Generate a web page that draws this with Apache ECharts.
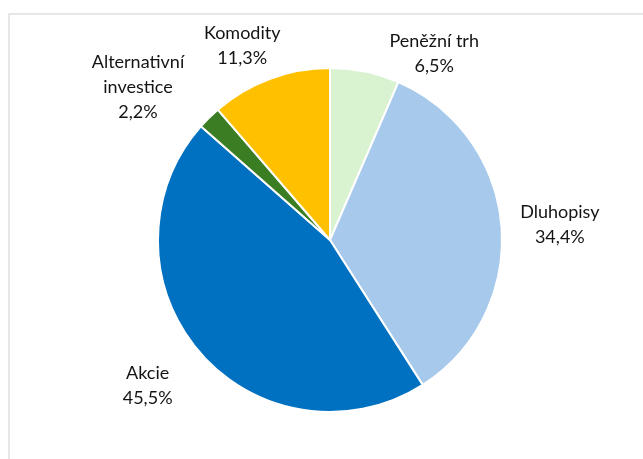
<!DOCTYPE html>
<html lang="cs">
<head>
    <meta charset="UTF-8">
    <title>Alokace portfolia</title>
    <style>
        html, body { margin: 0; padding: 0; background: #fff; }
        #main { width: 643px; height: 459px; }
    </style>
    <script src="https://cdn.jsdelivr.net/npm/echarts@6/dist/echarts.min.js"></script>
</head>
<body>
<div id="main"></div>
<script type="text/javascript">
    // data
    var categories = ['Peněžní trh', 'Dluhopisy', 'Akcie', 'Alternativní\ninvestice', 'Komodity'];
    var values = [6.5, 34.4, 45.5, 2.2, 11.3];
    var colors = ['#d9f2d0', '#a6c9ec', '#0070c0', '#3b7d23', '#ffc000'];

    // label placement (Excel "best fit" moves some labels off the radial line)
    var labelNudge = [[60, 27], [5, 3], [-16, 3], [-21, 20], [-11, 13]];

    var CX = 330, CY = 240, R = 172, GAP = 12;
    var total = values.reduce(function (a, b) { return a + b; }, 0);
    var cum = [];
    values.reduce(function (s, v, i) { cum[i] = s; return s + v; }, 0);

    var myChart = echarts.init(document.getElementById('main'));
    var option = {
        animation: false,
        graphic: [{
            type: 'rect',
            shape: { x: 9, y: 14, width: 700, height: 500 },
            style: { fill: 'none', stroke: '#e0e0e0', lineWidth: 1.5 },
            silent: true
        }],
        series: [{
            type: 'pie',
            center: [CX, CY],
            radius: R,
            startAngle: 90,
            clockwise: true,
            itemStyle: { borderColor: '#fff', borderWidth: 2 },
            label: {
                show: true,
                position: 'outside',
                fontFamily: 'Lato',
                fontSize: 18,
                lineHeight: 25,
                color: '#141414',
                formatter: function (p) {
                    return p.name + '\n' + p.value.toFixed(1).replace('.', ',') + '%';
                }
            },
            labelLine: { show: false },
            labelLayout: function (p) {
                var i = p.dataIndex;
                var mid = (cum[i] + values[i] / 2) / total * 2 * Math.PI;
                var dx = Math.sin(mid), dy = -Math.cos(mid);
                var w = p.labelRect.width, h = p.labelRect.height;
                var d = R + GAP + Math.abs(dx) * w / 2 + Math.abs(dy) * h / 2;
                return {
                    x: CX + dx * d + labelNudge[i][0],
                    y: CY + dy * d + labelNudge[i][1],
                    align: 'center',
                    verticalAlign: 'middle'
                };
            },
            data: categories.map(function (c, i) {
                return { name: c, value: values[i], itemStyle: { color: colors[i] } };
            })
        }]
    };
    myChart.setOption(option);
</script>
</body>
</html>
